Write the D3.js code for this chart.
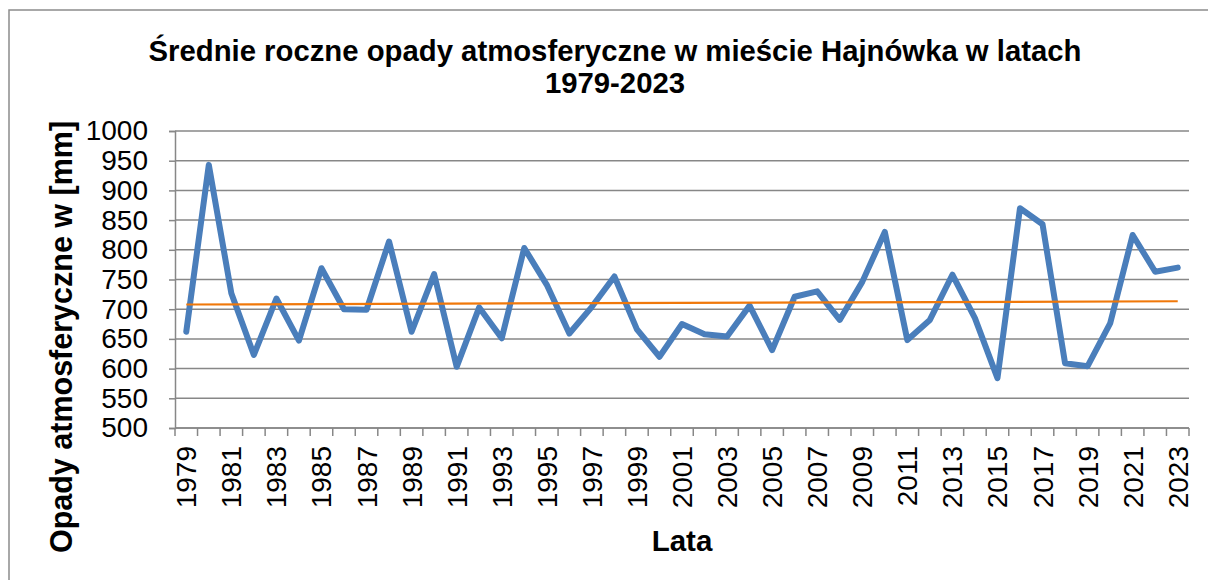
<!DOCTYPE html>
<html>
<head>
<meta charset="utf-8">
<script src="https://cdnjs.cloudflare.com/ajax/libs/d3/7.8.5/d3.min.js"></script>
<style>
  body { margin: 0; background: #fff; }
  svg { display: block; font-family: "Liberation Sans", Arial, sans-serif; }
</style>
</head>
<body>
<svg width="1208" height="580"></svg>
<script>
var years = d3.range(1979, 2024);
var rainfall = [662, 943, 727, 623, 718, 647, 769, 700, 699, 814,
                662, 759, 603, 703, 651, 803, 741, 659, 704, 755,
                666, 620, 675, 658, 654, 706, 631, 721, 730, 682,
                746, 830, 648, 682, 758, 685, 584, 870, 843, 609,
                604, 676, 825, 763, 770];
var yTicks = [500, 550, 600, 650, 700, 750, 800, 850, 900, 950, 1000];
var titleLines = ["Średnie roczne opady atmosferyczne w mieście Hajnówka w latach", "1979-2023"];

var svg = d3.select("svg");
var plotLeft = 175, plotRight = 1189, plotTop = 131, plotBottom = 428;
var grey = "#878787";

// chart frame (the right and bottom edges are cut off in the original)
svg.append("rect")
    .attr("x", 9).attr("y", 10)
    .attr("width", 1300).attr("height", 700)
    .attr("fill", "none").attr("stroke", "#8c8c8c").attr("stroke-width", 1.5);

var x = d3.scaleBand().domain(years).range([plotLeft, plotRight]).padding(0);
var y = d3.scaleLinear().domain([500, 1000]).range([plotBottom, plotTop]);

// gridlines
svg.append("g")
    .selectAll("line")
    .data(yTicks).enter()
    .append("line")
    .attr("x1", plotLeft).attr("x2", plotRight)
    .attr("y1", function (d) { return y(d); })
    .attr("y2", function (d) { return y(d); })
    .attr("stroke", grey).attr("stroke-width", 1.5);

// y axis
var yAxis = svg.append("g")
    .attr("transform", "translate(" + plotLeft + ",0)")
    .call(d3.axisLeft(y).tickValues(yTicks).tickSize(6).tickPadding(21).tickFormat(d3.format("d")));
yAxis.select(".domain").attr("stroke", grey).attr("stroke-width", 1.5);
yAxis.selectAll(".tick line").attr("stroke", grey).attr("stroke-width", 1.5);
yAxis.selectAll("text").attr("font-size", 28).attr("fill", "#000").attr("font-family", "Liberation Sans, Arial, sans-serif");

// x axis: ticks between categories, labels every second year
var bounds = years.map(function (d) { return x(d); }).concat([x.range()[1]]);
svg.append("g")
    .selectAll("line")
    .data(bounds).enter()
    .append("line")
    .attr("x1", function (d) { return d; }).attr("x2", function (d) { return d; })
    .attr("y1", plotBottom).attr("y2", plotBottom + 8)
    .attr("stroke", grey).attr("stroke-width", 1.5);

svg.append("line")
    .attr("x1", plotLeft).attr("x2", plotRight)
    .attr("y1", plotBottom).attr("y2", plotBottom)
    .attr("stroke", grey).attr("stroke-width", 1.5);

svg.append("g")
    .selectAll("text")
    .data(years.filter(function (d, i) { return i % 2 === 0; })).enter()
    .append("text")
    .attr("transform", function (d) {
        return "translate(" + (x(d) + x.bandwidth() / 2 + 10) + "," + (plotBottom + 18) + ") rotate(-90)";
    })
    .attr("text-anchor", "end")
    .attr("font-size", 28)
    .text(function (d) { return d; });

// series line
var line = d3.line()
    .x(function (d, i) { return x(years[i]) + x.bandwidth() / 2; })
    .y(function (d) { return y(d); });

svg.append("path")
    .datum(rainfall)
    .attr("d", line)
    .attr("fill", "none")
    .attr("stroke", "#4a7ebb")
    .attr("stroke-width", 6)
    .attr("stroke-linejoin", "round")
    .attr("stroke-linecap", "round");

// linear trend (least squares, like the spreadsheet trendline)
var n = rainfall.length;
var mx = d3.mean(d3.range(n)), my = d3.mean(rainfall);
var slope = d3.sum(rainfall, function (d, i) { return (i - mx) * (d - my); }) /
            d3.sum(d3.range(n), function (i) { return (i - mx) * (i - mx); });
var trend = [my - slope * mx, my + slope * (n - 1 - mx)];

svg.append("line")
    .attr("x1", x(years[0]) + x.bandwidth() / 2)
    .attr("x2", x(years[n - 1]) + x.bandwidth() / 2)
    .attr("y1", y(trend[0]))
    .attr("y2", y(trend[1]))
    .attr("stroke", "#f0780a")
    .attr("stroke-width", 2.2);

// titles
svg.append("g")
    .selectAll("text")
    .data(titleLines).enter()
    .append("text")
    .attr("x", 615)
    .attr("y", function (d, i) { return 61 + i * 32; })
    .attr("text-anchor", "middle")
    .attr("font-size", 29.3)
    .attr("font-weight", "bold")
    .text(function (d) { return d; });

svg.append("text")
    .attr("x", 682).attr("y", 551)
    .attr("text-anchor", "middle")
    .attr("font-size", 29.5)
    .attr("font-weight", "bold")
    .text("Lata");

svg.append("text")
    .attr("transform", "translate(72," + 337 + ") rotate(-90)")
    .attr("text-anchor", "middle")
    .attr("font-size", 30.5)
    .attr("font-weight", "bold")
    .text("Opady atmosferyczne w [mm]");
</script>
</body>
</html>
